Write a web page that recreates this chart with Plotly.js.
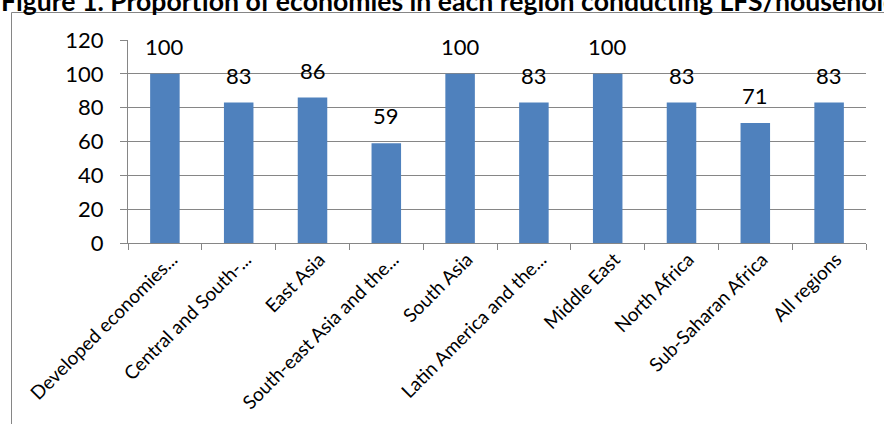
<!DOCTYPE html>
<html>
<head>
<meta charset="utf-8">
<script src="https://cdn.plot.ly/plotly-3.0.1.min.js"></script>
<style>
  html, body { margin: 0; padding: 0; background: #fff; overflow: hidden; }
  #chart { width: 884px; height: 424px; }
</style>
</head>
<body>
<div id="chart"></div>
<script>
// Regions (category axis) and share of economies, in percent
const regions = [
  "Developed economies...",
  "Central and South-...",
  "East Asia",
  "South-east Asia and the...",
  "South Asia",
  "Latin America and the...",
  "Middle East",
  "North Africa",
  "Sub-Saharan Africa",
  "All regions"
];
const shares = [100, 83, 86, 59, 100, 83, 100, 83, 71, 83];
const yTicks = [0, 20, 40, 60, 80, 100, 120];

const titleText = "Figure 1. Proportion of economies in each region conducting LFS/household surveys";

const barColor = "#4F81BD";
const lineGray = "#868686";
const font = "Lato, 'Open Sans', sans-serif";

// plot area geometry in pixels, used to place the frame and heading
const W = 884, H = 424;
const M = { l: 128, r: 18, t: 40, b: 181 };
const pw = W - M.l - M.r, ph = H - M.t - M.b;
const px2x = p => (p - M.l) / pw;
const py2y = p => (H - M.b - p) / ph;

// value labels above each bar
const valueLabels = regions.map((r, i) => ({
  x: r, y: shares[i], xref: "x", yref: "y",
  text: String(shares[i]), showarrow: false,
  yanchor: "bottom", yshift: 12,
  font: { family: font, size: 22, color: "#000" }
}));

const heading = {
  xref: "paper", yref: "paper",
  x: px2x(-1), y: py2y(1),
  xanchor: "left", yanchor: "middle",
  text: "<b>" + titleText + "</b>", showarrow: false,
  font: { family: font, size: 26.6, color: "#000" }
};

const data = [{
  type: "bar",
  x: regions,
  y: shares,
  marker: { color: barColor },
  hoverinfo: "x+y"
}];

const layout = {
  width: W, height: H,
  margin: M,
  paper_bgcolor: "#fff",
  plot_bgcolor: "#fff",
  showlegend: false,
  bargap: 0.6,
  font: { family: font, color: "#000" },
  xaxis: {
    type: "category",
    showline: true, linecolor: lineGray, linewidth: 1,
    ticks: "outside", tickson: "boundaries", ticklen: 6, tickcolor: lineGray,
    tickangle: -45,
    ticklabelshift: 7,
    ticklabelstandoff: -3,
    tickfont: { family: font, size: 19, color: "#000" },
    showgrid: false, zeroline: false,
    automargin: false
  },
  yaxis: {
    range: [0, 120],
    tickvals: yTicks,
    ticktext: yTicks.map(String),
    showline: true, linecolor: lineGray, linewidth: 1,
    ticks: "outside", ticklen: 7, tickcolor: lineGray,
    ticklabelstandoff: 12,
    showgrid: true, gridcolor: lineGray, gridwidth: 1,
    zeroline: false,
    tickfont: { family: font, size: 22, color: "#000" },
    automargin: false
  },
  shapes: [{
    type: "rect", xref: "paper", yref: "paper",
    x0: px2x(11.5), x1: px2x(W + 20),
    y0: py2y(H + 20), y1: py2y(12.5),
    line: { color: lineGray, width: 1 },
    fillcolor: "rgba(0,0,0,0)",
    layer: "below"
  }],
  annotations: [heading].concat(valueLabels)
};

Plotly.newPlot("chart", data, layout, { displayModeBar: false, staticPlot: true });
</script>
</body>
</html>
